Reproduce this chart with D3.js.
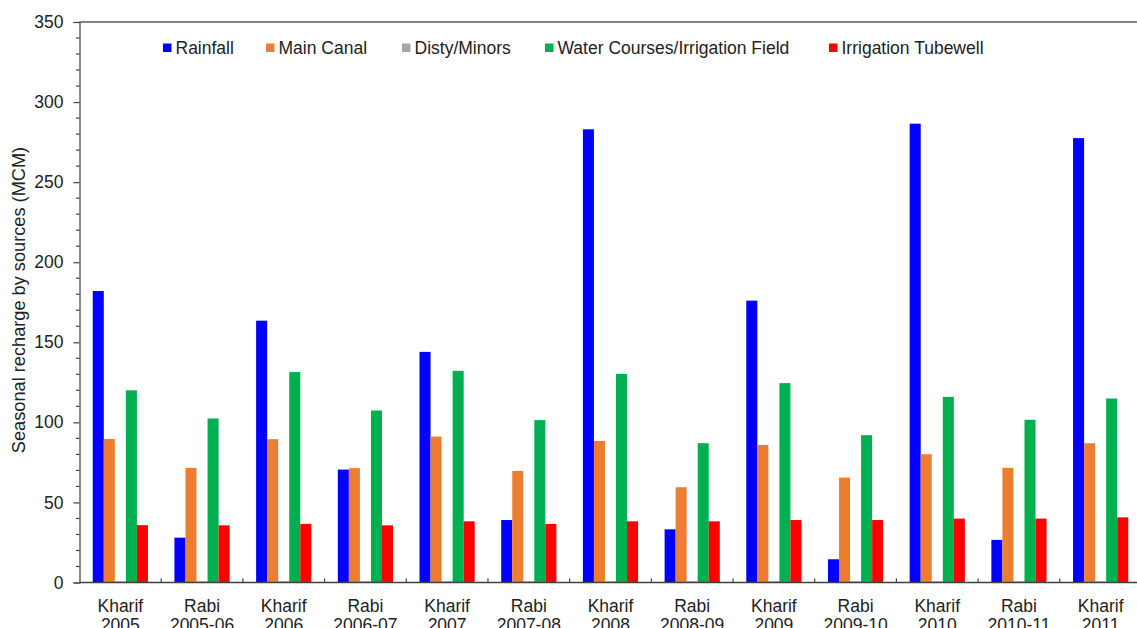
<!DOCTYPE html>
<html>
<head>
<meta charset="utf-8">
<script src="https://cdn.jsdelivr.net/npm/d3@7"></script>
<style>
  html, body { margin: 0; padding: 0; background: #fff; }
  svg { display: block; font-family: "Liberation Sans", Arial, sans-serif; }
</style>
</head>
<body>
<svg id="chart" width="1137" height="628"></svg>
<script>
const seasons = ["Kharif", "Rabi", "Kharif", "Rabi", "Kharif", "Rabi", "Kharif", "Rabi", "Kharif", "Rabi", "Kharif", "Rabi", "Kharif"];
const years = ["2005", "2005-06", "2006", "2006-07", "2007", "2007-08", "2008", "2008-09", "2009", "2009-10", "2010", "2010-11", "2011"];
const seriesNames = ["Rainfall", "Main Canal", "Disty/Minors", "Water Courses/Irrigation Field", "Irrigation Tubewell"];
const rainfall = [182, 28, 163.5, 70.5, 144, 39, 283, 33.2, 176, 14.5, 286.5, 26.6, 277.5];
const mainCanal = [89.6, 71.6, 89.5, 71.4, 91.1, 69.7, 88.4, 59.5, 85.9, 65.5, 80.1, 71.6, 87];
const distyMinors = [0.8, 0.8, 0.8, 0.8, 0.8, 0.8, 0.8, 0.8, 0.8, 0.8, 0.8, 0.8, 0.8];
const waterCourses = [120, 102.4, 131.4, 107.4, 132.2, 101.4, 130.3, 87, 124.5, 92, 115.9, 101.6, 114.9];
const tubewell = [35.8, 35.7, 36.6, 35.7, 38.2, 36.6, 38.2, 38.2, 39, 39, 39.9, 39.9, 40.7];
const yTicks = [0, 50, 100, 150, 200, 250, 300, 350];
const colors = ["#0000FF", "#ED7D31", "#A5A5A5", "#00B050", "#FF0000"];

const seriesValues = [rainfall, mainCanal, distyMinors, waterCourses, tubewell];
const categories = years.map((y, i) => i);

const svg = d3.select("#chart");
const pLeft = 79.5, pRight = 1141.5, pTop = 22, pBottom = 582.5;
const axisColor = "#404040";

const x0 = d3.scaleBand().domain(categories).range([pLeft, pRight]).paddingInner(0).paddingOuter(0);
const x1 = d3.scaleBand().domain(d3.range(seriesNames.length)).range([0, x0.bandwidth()]).paddingInner(0).paddingOuter(1.2);
const y = d3.scaleLinear().domain([0, 350]).range([pBottom, pTop]);

// bars
const g = svg.append("g");
seriesValues.forEach((vals, s) => {
  g.selectAll(null).data(vals).enter().append("rect")
    .attr("x", (d, i) => x0(i) + x1(s))
    .attr("y", d => y(d))
    .attr("width", x1.bandwidth())
    .attr("height", d => y(0) - y(d))
    .attr("fill", colors[s]);
});

// top border
svg.append("line").attr("x1", pLeft).attr("x2", 1137).attr("y1", pTop).attr("y2", pTop)
  .attr("stroke", "#595959").attr("stroke-width", 1.5);

// y axis
const yAxis = d3.axisLeft(y).tickValues(yTicks).tickSize(6).tickPadding(10);
const ya = svg.append("g").attr("transform", `translate(${pLeft},0)`).call(yAxis);
ya.select(".domain").attr("stroke", axisColor).attr("stroke-width", 1.2);
ya.selectAll(".tick line").attr("stroke", axisColor).attr("stroke-width", 1.2);
ya.selectAll(".tick text").attr("font-size", "17.5px").attr("fill", "#222")
  .attr("font-family", "Liberation Sans, Arial, sans-serif");
// minor ticks
const minor = d3.range(0, 351, 10).filter(v => v % 50 !== 0);
svg.append("g").selectAll("line").data(minor).enter().append("line")
  .attr("x1", pLeft - 3.5).attr("x2", pLeft).attr("y1", d => y(d)).attr("y2", d => y(d))
  .attr("stroke", axisColor).attr("stroke-width", 1.2);

// x axis
svg.append("line").attr("x1", pLeft).attr("x2", 1137).attr("y1", pBottom).attr("y2", pBottom)
  .attr("stroke", axisColor).attr("stroke-width", 1.5);
svg.append("g").selectAll("line").data(categories.slice(1)).enter().append("line")
  .attr("x1", d => x0(d)).attr("x2", d => x0(d)).attr("y1", pBottom).attr("y2", pBottom - 4)
  .attr("stroke", axisColor).attr("stroke-width", 1.2);

const xl = svg.append("g").selectAll("text").data(categories).enter().append("text")
  .attr("x", d => x0(d) + x0.bandwidth() / 2)
  .attr("y", 612)
  .attr("text-anchor", "middle")
  .attr("font-size", "17.5px")
  .attr("fill", "#222");
xl.append("tspan").attr("x", d => x0(d) + x0.bandwidth() / 2).text(d => seasons[d]);
xl.append("tspan").attr("x", d => x0(d) + x0.bandwidth() / 2).attr("dy", 19).text(d => years[d]);

// y title
svg.append("text")
  .attr("transform", "translate(25,300) rotate(-90)")
  .attr("text-anchor", "middle")
  .attr("font-size", "18.2px")
  .attr("fill", "#222")
  .text("Seasonal recharge by sources (MCM)");

// legend
const legendX = [163, 266, 402, 545, 829];
const lg = svg.append("g").selectAll("g").data(seriesNames).enter().append("g")
  .attr("transform", (d, i) => `translate(${legendX[i]},48)`);
lg.append("rect").attr("x", 0).attr("y", -4.5).attr("width", 8.5).attr("height", 8.5)
  .attr("fill", (d, i) => colors[i]);
lg.append("text").attr("x", 12.5).attr("y", 6).attr("font-size", "17.5px").attr("fill", "#222").text(d => d);
</script>
</body>
</html>
